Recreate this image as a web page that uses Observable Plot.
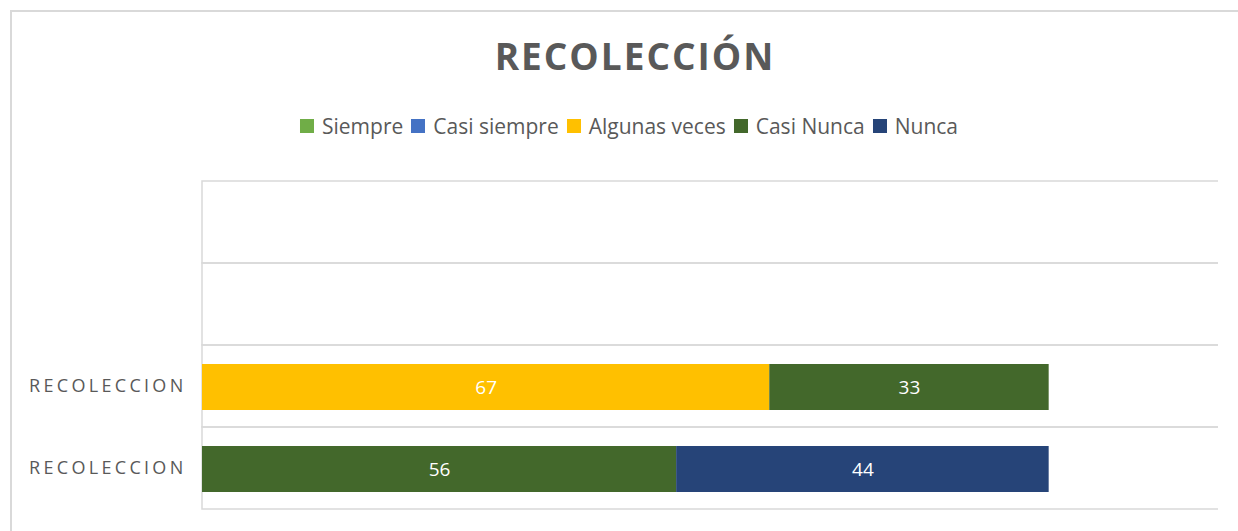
<!DOCTYPE html>
<html><head><meta charset="utf-8">
<script src="https://cdn.jsdelivr.net/npm/d3@7"></script>
<script src="https://cdn.jsdelivr.net/npm/@observablehq/plot@0.6"></script>
<style>
html,body{margin:0;padding:0;background:#fff;overflow:hidden;width:1238px;height:531px;font-family:"Open Sans",sans-serif;position:relative;}
#frame{position:absolute;left:10px;top:10px;width:1300px;height:600px;border:2px solid #d9d9d9;box-sizing:border-box;}
#title{position:absolute;left:635px;top:30px;transform:translateX(-50%);font-size:37px;font-weight:700;color:#595959;letter-spacing:2px;white-space:nowrap;line-height:52px;}
#legend{position:absolute;left:629px;top:111px;transform:translateX(-50%);display:flex;align-items:center;white-space:nowrap;font-size:21px;color:#595959;line-height:30px;}
#legend .item{display:flex;align-items:center;margin-right:8px;}
#legend .item:last-child{margin-right:0;}
#legend .sw{width:14px;height:14px;margin-right:8px;display:inline-block;}
#chart{position:absolute;left:0;top:160px;}
#chart svg g[aria-label="y-axis tick label"] text{letter-spacing:3.3px;}
</style>
</head><body>
<div id="frame"></div>
<div id="title">RECOLECCIÓN</div>
<div id="legend"></div>
<div id="chart"></div>
<script>
// Data
const rowKeys = ["r1", "r2", "r3", "r4"]; // top to bottom
const rowLabels = ["", "", "RECOLECCION", "RECOLECCION"];
const series = ["Siempre", "Casi siempre", "Algunas veces", "Casi Nunca", "Nunca"];
const seriesColors = ["#70AD47", "#4472C4", "#FFC000", "#43682B", "#264478"];
const r3Values = [0, 0, 67, 33, 0];
const r4Values = [0, 0, 0, 56, 44];

const rowValues = {r3: r3Values, r4: r4Values};
const table = [];
for (const k of rowKeys) {
  const vals = rowValues[k];
  if (!vals) continue;
  series.forEach((s, i) => { if (vals[i] > 0) table.push({row: k, series: s, value: vals[i]}); });
}
const labelOf = Object.fromEntries(rowKeys.map((k, i) => [k, rowLabels[i]]));

// Legend
const legend = document.getElementById("legend");
series.forEach((s, i) => {
  const it = document.createElement("div");
  it.className = "item";
  it.innerHTML = `<span class="sw" style="background:${seriesColors[i]}"></span><span>${s}</span>`;
  legend.appendChild(it);
});

const chart = Plot.plot({
  width: 1238,
  height: 371,
  marginLeft: 200,
  marginRight: 20,
  marginTop: 18,
  marginBottom: 19,
  style: {fontFamily: "Open Sans, sans-serif", fontSize: "18px", color: "#595959", background: "transparent"},
  x: {domain: [0, 120], range: [202, 1218], axis: null},
  y: {domain: rowKeys, range: [20, 350], padding: 0, axis: "left", tickSize: 0, tickPadding: 14, tickFormat: d => labelOf[d], label: null},
  color: {domain: series, range: seriesColors},
  marks: [
    Plot.barX(rowKeys, {y: d => d, x1: 0, x2: 125, fill: "none", stroke: "#d9d9d9", strokeWidth: 1.5, clip: true}),
    Plot.barX(table, Plot.stackX({y: "row", x: "value", fill: "series", order: series, insetTop: 19, insetBottom: 17})),
    Plot.text(table, Plot.stackX({y: "row", x: "value", z: "series", order: series, text: d => String(d.value), fill: "white", fontSize: 19, dy: 1}))
  ]
});
document.getElementById("chart").appendChild(chart);
</script>
</body></html>
